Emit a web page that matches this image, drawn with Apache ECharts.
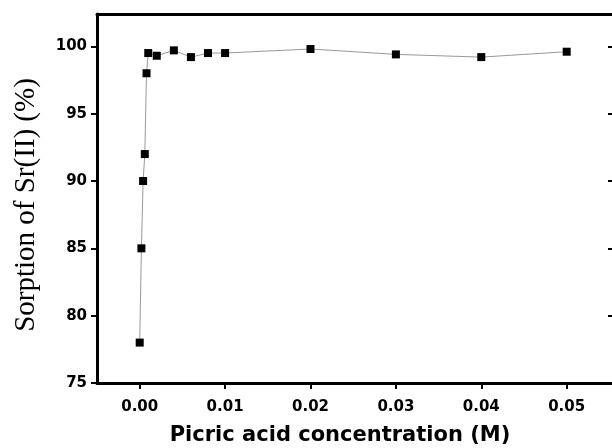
<!DOCTYPE html>
<html>
<head>
<meta charset="utf-8">
<script src="https://cdn.jsdelivr.net/npm/echarts@6/dist/echarts.min.js"></script>
<style>
html,body{margin:0;padding:0;background:#fff;overflow:hidden;width:612px;height:448px;}
#chart{width:625px;height:448px;}
</style>
</head>
<body>
<div id="chart"></div>
<script>
// Data
const concentration = [0, 0.0002, 0.0004, 0.0006, 0.0008, 0.001, 0.002, 0.004, 0.006, 0.008, 0.01, 0.02, 0.03, 0.04, 0.05];
const sorption = [78, 85, 90, 92, 98, 99.5, 99.3, 99.7, 99.2, 99.5, 99.5, 99.8, 99.4, 99.2, 99.6];
const xTicks = [0, 0.01, 0.02, 0.03, 0.04, 0.05];
const yTicks = [75, 80, 85, 90, 95, 100];
const xTitle = 'Picric acid concentration (M)';
const yTitle = 'Sorption of Sr(II) (%)';

const points = concentration.map((c, i) => [c, sorption[i]]);
const chart = echarts.init(document.getElementById('chart'), null, {renderer: 'canvas'});
const labelFont = {fontFamily: 'DejaVu Sans', fontWeight: 'bold', fontSize: 15, color: '#000'};

chart.setOption({
  animation: false,
  backgroundColor: '#fff',
  grid: {left: 97, top: 14, right: 11, bottom: 65},
  xAxis: [{
    type: 'value', min: -0.005, max: 0.05554, position: 'bottom',
    axisLine: {show: true, lineStyle: {color: '#000', width: 3}},
    axisTick: {show: true, inside: false, length: 6, lineStyle: {color: '#000', width: 2}, customValues: xTicks},
    axisLabel: Object.assign({margin: 17, customValues: xTicks, formatter: v => v.toFixed(2)}, labelFont),
    splitLine: {show: false}
  }, {
    type: 'value', min: -0.005, max: 0.05554, position: 'top',
    axisLine: {show: true, onZero: false, lineStyle: {color: '#000', width: 3}},
    axisTick: {show: false}, axisLabel: {show: false}, splitLine: {show: false}
  }],
  yAxis: [{
    type: 'value', min: 75, max: 102.4, position: 'left',
    axisLine: {show: true, onZero: false, lineStyle: {color: '#000', width: 3}},
    axisTick: {show: true, inside: false, length: 6, lineStyle: {color: '#000', width: 2}, customValues: yTicks},
    axisLabel: Object.assign({margin: 10, customValues: yTicks}, labelFont),
    splitLine: {show: false}
  }, {
    type: 'value', min: 75, max: 102.4, position: 'right',
    axisLine: {show: true, onZero: false, lineStyle: {color: '#000', width: 3}},
    axisTick: {show: true, inside: true, length: 6, lineStyle: {color: '#000', width: 2}, customValues: yTicks},
    axisLabel: {show: false}, splitLine: {show: false}
  }],
  graphic: [{
    type: 'text', x: 26, y: 205, rotation: Math.PI / 2,
    style: {text: yTitle, font: '29px "Liberation Serif"', fill: '#000', textAlign: 'center', textVerticalAlign: 'middle'}
  }, {
    type: 'text', x: 340, y: 436,
    style: {text: xTitle, font: 'bold 21px "DejaVu Sans"', fill: '#000', textAlign: 'center', textVerticalAlign: 'middle'}
  }],
  series: [{
    type: 'line', xAxisIndex: 0, yAxisIndex: 0, data: points,
    symbol: 'rect', symbolSize: 8,
    itemStyle: {color: '#000'},
    lineStyle: {color: '#999', width: 1}
  }]
});
</script>
</body>
</html>
